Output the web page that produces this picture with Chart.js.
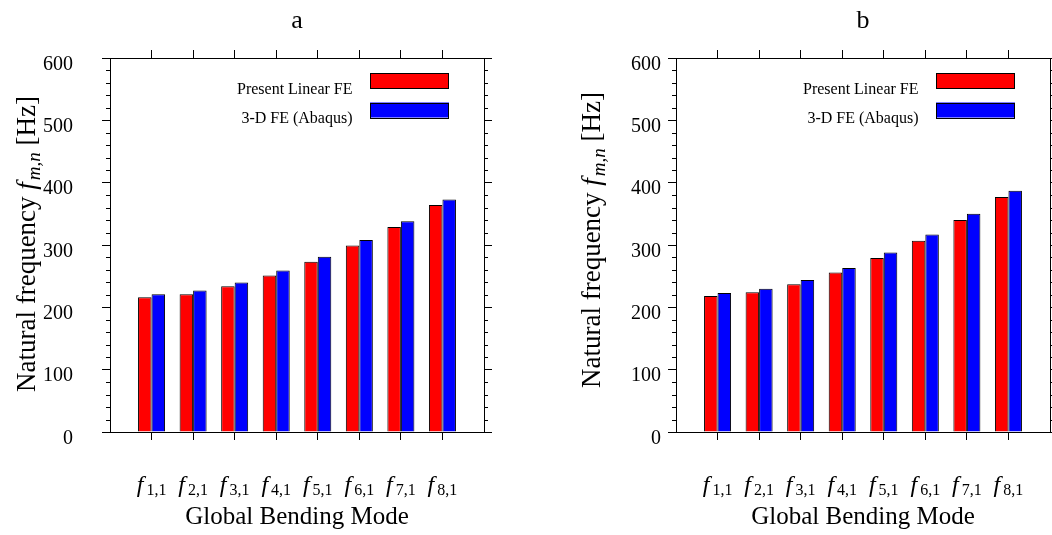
<!DOCTYPE html>
<html>
<head>
<meta charset="utf-8">
<script src="https://cdn.jsdelivr.net/npm/chart.js@4.4.1/dist/chart.umd.min.js"></script>
<style>
  html, body { margin: 0; padding: 0; background: #fff; }
  #wrap { position: relative; width: 1052px; height: 535px; overflow: hidden; }
  canvas { position: absolute; top: 0; }
</style>
</head>
<body>
<div id="wrap">
  <canvas id="panelA" width="526" height="535" style="left:0"></canvas>
  <canvas id="panelB" width="526" height="535" style="left:526px"></canvas>
</div>
<script>
// Bending mode subscripts (m,n) shown under each bar pair
const modes = ['1,1', '2,1', '3,1', '4,1', '5,1', '6,1', '7,1', '8,1'];

// Natural frequencies [Hz], panel a
const linearFE_a = [216, 221, 234, 251, 273, 299, 329, 364];
const abaqus_a   = [221, 227, 240, 259, 281, 308, 338, 373];

// Natural frequencies [Hz], panel b
const linearFE_b = [218, 224, 237, 256, 279, 307, 340, 377];
const abaqus_b   = [223, 230, 244, 263, 288, 317, 350, 387];

const seriesNames = ['Present Linear FE', '3-D FE (Abaqus)'];
const seriesColors = ['#ff0000', '#0000ff'];

// Frequency axis
const yMin = 0, yMax = 600, yMajorStep = 100, yMinorStep = 20;

const serif = "'Liberation Serif', 'Times New Roman', serif";

// Draws the minor ticks, math-style labels, axis titles, panel letter and key
const decor = {
  id: 'decor',
  afterDraw(chart, args, opts) {
    const ctx = chart.ctx;
    const area = chart.chartArea;
    const xs = chart.scales.x;
    const ys = chart.scales.y;
    ctx.save();

    // minor ticks, outward on both vertical axes
    ctx.strokeStyle = '#000';
    ctx.lineWidth = 1;
    ctx.beginPath();
    for (let v = yMin; v <= yMax; v += yMinorStep) {
      if (v % yMajorStep === 0) continue;
      const py = Math.round(ys.getPixelForValue(v)) + 0.5;
      ctx.moveTo(area.left - 4, py); ctx.lineTo(area.left, py);
      ctx.moveTo(area.right, py); ctx.lineTo(area.right + 4, py);
    }
    ctx.stroke();

    ctx.fillStyle = '#000';
    ctx.textBaseline = 'alphabetic';
    ctx.textAlign = 'left';

    // f_{m,n} category labels
    const fFont = `italic 24px ${serif}`;
    const subFont = `16px ${serif}`;
    modes.forEach((m, i) => {
      const px = xs.getPixelForValue(i + 1);
      ctx.font = fFont;
      const wf = ctx.measureText('f').width;
      ctx.font = subFont;
      const ws = ctx.measureText(m).width;
      const gap = 3;
      const sx = px - (wf + gap + ws) / 2;
      ctx.font = fFont;
      ctx.fillText('f', sx, 492);
      ctx.font = subFont;
      ctx.fillText(m, sx + wf + gap, 495);
    });

    const cx = (area.left + area.right) / 2;

    // x-axis title
    ctx.font = `25px ${serif}`;
    ctx.textAlign = 'center';
    ctx.fillText('Global Bending Mode', cx, 524);

    // panel letter
    ctx.font = `26px ${serif}`;
    ctx.fillText(opts.title, cx, 28);

    // y-axis title: "Natural frequency f_{m,n} [Hz]"
    const parts = [
      { t: 'Natural frequency ', f: `27px ${serif}`, dy: 0 },
      { t: 'f', f: `italic 27px ${serif}`, dy: 0 },
      { t: 'm,n', f: `italic 19px ${serif}`, dy: 5 },
      { t: ' [Hz]', f: `27px ${serif}`, dy: 0 }
    ];
    let total = 0;
    parts.forEach(p => { ctx.font = p.f; p.w = ctx.measureText(p.t).width; total += p.w; });
    total += 2;
    ctx.save();
    ctx.translate(opts.yTitleX, opts.yTitleY);
    ctx.rotate(-Math.PI / 2);
    ctx.textAlign = 'left';
    let tx = -total / 2;
    parts.forEach((p, k) => {
      ctx.font = p.f;
      ctx.fillText(p.t, tx, p.dy);
      tx += p.w + (k === 1 ? 2 : 0);
    });
    ctx.restore();

    // key: text on the left, colour bar on the right
    const bw = 79, bh = 15;
    const bx = area.right - 35 - bw;
    chart.data.datasets.forEach((ds, k) => {
      const by = area.top + 15 + k * 29.5;
      ctx.fillStyle = ds.backgroundColor;
      ctx.fillRect(bx, by, bw, bh);
      ctx.strokeStyle = '#000';
      ctx.strokeRect(Math.round(bx) + 0.5, Math.round(by) + 0.5, bw - 1, bh);
      ctx.fillStyle = '#000';
      ctx.font = `16px ${serif}`;
      ctx.textAlign = 'right';
      ctx.fillText(ds.label, bx - 17.5, by + 20.7);
    });

    ctx.restore();
  }
};

function makePanel(canvasId, cfg, fe, abq) {
  const labels = ['', ...modes, ''];
  const pad = arr => [null, ...arr, null];
  const fixW = w => s => { s.width = w; };
  const fixH = h => s => { s.height = h; };
  const keepModeTicks = s => {
    s.ticks = s.ticks.filter(t => t.value >= 1 && t.value <= modes.length);
  };
  const tickGrid = { drawOnChartArea: false, tickLength: 8, color: '#000', offset: false };
  const edge = { display: true, color: '#000', width: 1 };

  const seriesData = [fe, abq];
  return new Chart(document.getElementById(canvasId), {
    type: 'bar',
    data: {
      labels,
      datasets: seriesNames.map((name, k) => ({
        label: name,
        data: pad(seriesData[k]),
        backgroundColor: seriesColors[k],
        borderColor: '#000',
        borderWidth: 1,
        categoryPercentage: 0.65,
        barPercentage: 1
      }))
    },
    options: {
      responsive: false,
      animation: false,
      devicePixelRatio: 1,
      layout: { padding: 0 },
      events: [],
      plugins: {
        legend: { display: false },
        tooltip: { enabled: false },
        title: { display: false },
        decor: { title: cfg.title, yTitleX: cfg.yTitleX, yTitleY: cfg.yTitleY }
      },
      scales: {
        x: {
          type: 'category', position: 'bottom', offset: false,
          grid: tickGrid, border: edge,
          ticks: { display: false, autoSkip: false },
          afterBuildTicks: keepModeTicks,
          afterFit: fixH(cfg.bottom)
        },
        x2: {
          type: 'category', position: 'top', labels, offset: false,
          grid: tickGrid, border: edge,
          ticks: { display: false, autoSkip: false },
          afterBuildTicks: keepModeTicks,
          afterFit: fixH(cfg.top)
        },
        y: {
          position: 'left', min: yMin, max: yMax,
          grid: tickGrid, border: edge,
          ticks: {
            stepSize: yMajorStep, color: '#000',
            font: { family: serif, size: 20 },
            padding: cfg.labelPad, labelOffset: 6.5
          },
          afterFit: fixW(cfg.left)
        },
        y2: {
          position: 'right', min: yMin, max: yMax,
          grid: tickGrid, border: edge,
          ticks: { display: false, stepSize: yMajorStep },
          afterFit: fixW(cfg.right)
        }
      }
    },
    plugins: [decor]
  });
}

makePanel('panelA',
  { title: 'a', left: 110, right: 42, top: 58, bottom: 103, labelPad: 29, yTitleX: 35, yTitleY: 244 },
  linearFE_a, abaqus_a);

makePanel('panelB',
  { title: 'b', left: 150, right: 2, top: 58, bottom: 103, labelPad: 7, yTitleX: 74, yTitleY: 240 },
  linearFE_b, abaqus_b);
</script>
</body>
</html>
